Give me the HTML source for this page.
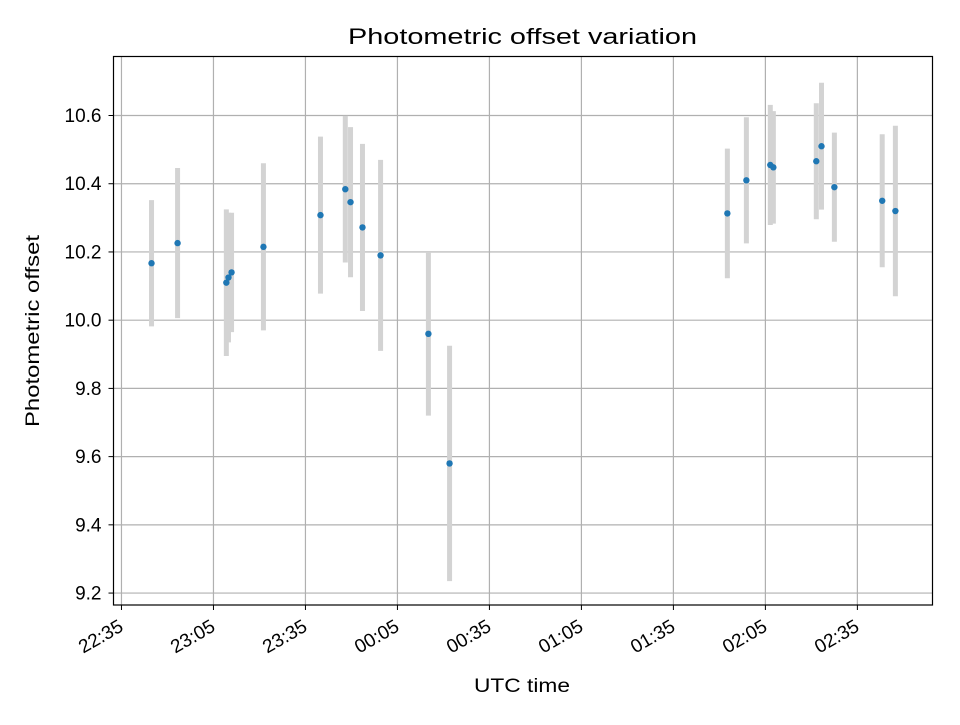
<!DOCTYPE html>
<html><head><meta charset="utf-8"><style>
body{margin:0;background:#fff;font-family:"Liberation Sans","DejaVu Sans",sans-serif}
svg text{font-family:"Liberation Sans","DejaVu Sans",sans-serif}
</style></head><body>
<svg id="chart" width="960" height="720" viewBox="0 0 960 720" xmlns="http://www.w3.org/2000/svg">
<rect x="0" y="0" width="960" height="720" fill="#fff"/>
<text x="522.5" y="44" font-size="22" text-anchor="middle" textLength="349" lengthAdjust="spacingAndGlyphs" fill="#000">Photometric offset variation</text>
<text x="522" y="692" font-size="19" text-anchor="middle" textLength="96" lengthAdjust="spacingAndGlyphs">UTC time</text>
<text transform="translate(39,331) rotate(-90)" font-size="19" text-anchor="middle" textLength="192" lengthAdjust="spacingAndGlyphs">Photometric offset</text>
<g id="grid"></g><g id="errs"></g><g id="pts"></g><g id="ticks"></g>
<rect x="113.5" y="56.5" width="819" height="548.5" fill="none" stroke="#000" stroke-width="1.2"/>
</svg>
<script>
// minutes after 22:35 UTC
const times=[9.8,18.3,34.2,34.9,35.9,46.3,64.9,73.0,74.7,78.6,84.5,100.1,107.0,197.6,203.8,211.6,212.6,226.6,228.3,232.5,248.1,252.4];
const offsets=[10.167,10.226,10.11,10.125,10.14,10.215,10.308,10.384,10.346,10.272,10.19,9.96,9.58,10.313,10.41,10.455,10.448,10.466,10.51,10.39,10.35,10.32];
const errors=[0.185,0.22,0.215,0.19,0.175,0.245,0.23,0.215,0.22,0.245,0.28,0.24,0.345,0.19,0.185,0.176,0.165,0.17,0.186,0.16,0.195,0.25];
const xTickMinutes=[0,30,60,90,120,150,180,210,240];
const xTickLabels=["22:35","23:05","23:35","00:05","00:35","01:05","01:35","02:05","02:35"];
const yTicks=[9.2,9.4,9.6,9.8,10.0,10.2,10.4,10.6];
const yTickLabels=["9.2","9.4","9.6","9.8","10.0","10.2","10.4","10.6"];
const NS="http://www.w3.org/2000/svg";
const X0=113.5,X1=932.5,Y0=56.5,Y1=605;
const xMin=-2.6,xMax=264.5,yMin=9.165,yMax=10.773;
const sx=m=>X0+(m-xMin)/(xMax-xMin)*(X1-X0);
const sy=v=>Y1-(v-yMin)/(yMax-yMin)*(Y1-Y0);
function mk(tag,attrs,parent){const e=document.createElementNS(NS,tag);for(const k in attrs)e.setAttribute(k,attrs[k]);document.getElementById(parent).appendChild(e);return e;}
xTickMinutes.forEach((m,i)=>{
  const x=sx(m);
  const g=mk('line',{x1:x,x2:x,y1:Y0,y2:Y1,stroke:'#b0b0b0','stroke-width':1.2},'grid');
  
  
  const t=mk('line',{x1:x,x2:x,y1:Y1,y2:Y1+5,stroke:'#000','stroke-width':1},'ticks');
  
  
  const ax=x+3, ay=Y1+25;
  const l=mk('text',{x:ax,y:ay,'font-size':19,'text-anchor':'end',transform:`rotate(-30 ${ax} ${ay})`},'ticks');
  l.textContent=xTickLabels[i];
  
  
});
yTicks.forEach((v,i)=>{
  const y=sy(v);
  const g=mk('line',{x1:X0,x2:X1,y1:y,y2:y,stroke:'#b0b0b0','stroke-width':1.2},'grid');
  
  
  const t=mk('line',{x1:X0-5,x2:X0,y1:y,y2:y,stroke:'#000','stroke-width':1},'ticks');
  
  
  const l=mk('text',{x:X0-12,y:y+6.5,'font-size':19,'text-anchor':'end'},'ticks');
  l.textContent=yTickLabels[i];
  
  
});
times.forEach((m,i)=>{
  const x=sx(m);
  const e=mk('line',{x1:x,x2:x,y1:sy(offsets[i]+errors[i]),y2:sy(offsets[i]-errors[i]),stroke:'#d3d3d3','stroke-width':5},'errs');
  
  
  const p=mk('circle',{cx:x,cy:sy(offsets[i]),r:3.2,fill:'#1f77b4'},'pts');
  
  
});
</script>
</body></html>
